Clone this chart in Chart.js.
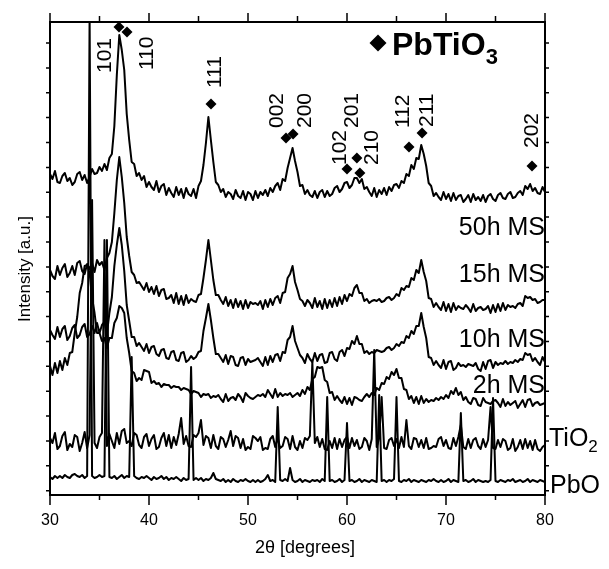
<!DOCTYPE html>
<html><head><meta charset="utf-8">
<script src="https://cdn.jsdelivr.net/npm/chart.js@4"></script>
<style>html,body{margin:0;padding:0;background:#fff}#wrap{width:609px;height:569px}</style>
</head><body><div id="wrap"><canvas id="c" width="609" height="569" style="width:609px;height:569px"></canvas></div>
<script>
// 2-theta grid (degrees)
const angles = [
30,30.25,30.5,30.75,31,31.25,31.5,31.75,32,32.25,32.5,32.75,33,33.25,33.5,33.75,34,34.25,34.5,34.75,
35,35.25,35.5,35.75,36,36.25,36.5,36.75,37,37.25,37.5,37.75,38,38.25,38.5,38.75,39,39.25,39.5,39.75,
40,40.25,40.5,40.75,41,41.25,41.5,41.75,42,42.25,42.5,42.75,43,43.25,43.5,43.75,44,44.25,44.5,44.75,
45,45.25,45.5,45.75,46,46.25,46.5,46.75,47,47.25,47.5,47.75,48,48.25,48.5,48.75,49,49.25,49.5,49.75,
50,50.25,50.5,50.75,51,51.25,51.5,51.75,52,52.25,52.5,52.75,53,53.25,53.5,53.75,54,54.25,54.5,54.75,
55,55.25,55.5,55.75,56,56.25,56.5,56.75,57,57.25,57.5,57.75,58,58.25,58.5,58.75,59,59.25,59.5,59.75,
60,60.25,60.5,60.75,61,61.25,61.5,61.75,62,62.25,62.5,62.75,63,63.25,63.5,63.75,64,64.25,64.5,64.75,
65,65.25,65.5,65.75,66,66.25,66.5,66.75,67,67.25,67.5,67.75,68,68.25,68.5,68.75,69,69.25,69.5,69.75,
70,70.25,70.5,70.75,71,71.25,71.5,71.75,72,72.25,72.5,72.75,73,73.25,73.5,73.75,74,74.25,74.5,74.75,
75,75.25,75.5,75.75,76,76.25,76.5,76.75,77,77.25,77.5,77.75,78,78.25,78.5,78.75,79,79.25,79.5,79.75,
80];

// intensities (a.u.), each relative to its own trace
const ms50h = [
26,21,29,18, 17,24,27,19, 22,15,18,26, 28,20,25,17, 23,31,26,27,
33,29,36,30, 42,46,74,125, 165,150,130,86, 60,38,36,24, 27,20,24,13,
18,13,10,19, 8,14,16,5, 12,7,3,13, 5,11,2,12, 6,4,11,2,
14,19,35,57, 83,60,38,18, 15,8,11,3, 8,6,1,10, 4,2,9,0,
8,6,0,9, 2,8,5,10, 4,12,8,14, 17,10,21,19, 32,42,52,39,
28,14,15,6, 10,5,3,9, 2,8,10,3, 9,4,6,12, 14,8,11,17,
18,12,15,22, 22,17,21,11, 13,8,4,12, 3,10,6,12, 5,13,9,15,
16,12,19,17, 26,24,35,31, 42,41,55,46, 34,17,14,4, 7,3,0,8,
1,6,-1,7, 0,4,5,-2, 1,5,-2,6, 0,3,-1,5, -2,4,6,1,
-1,5,7,2, 1,6,8,2, 3,7,9,5, 14,11,16,9, 12,7,6,13,
8];
const ms15h = [
40,34,31,44, 35,42,46,33, 37,44,35,47, 49,39,36,46, 41,47,38,50,
45,48,40,52, 57,68,97,130, 153,133,107,73, 54,38,35,27, 28,24,20,27,
18,23,16,24, 14,20,21,11, 12,15,7,17, 6,14,5,15, 7,11,9,8,
15,16,32,50, 70,50,30,15, 15,10,6,13, 4,10,2,11, 3,9,1,10,
2,8,6,7, 5,9,1,10, 3,11,5,12, 14,7,17,18, 32,36,44,28,
20,11,9,4, 10,7,2,12, 3,9,1,11, 2,10,3,12, 4,13,6,15,
9,16,14,22, 25,17,17,9, 11,7,9,10, 9,11,8,9, 12,13,10,12,
16,14,22,20, 24,23,32,30, 40,37,50,38, 29,12,11,3, 7,3,0,8,
-1,6,-2,7, 0,4,2,1, 5,2,-2,6, -1,2,3,0, 1,4,-3,5,
-2,6,-1,7, 0,5,3,4, 2,6,7,4, 14,12,13,10, 11,7,8,10,
10];
const ms10h = [
38,33,29,41, 31,39,42,28, 32,40,43,30, 33,41,44,31, 34,42,35,45,
35,43,46,34, 55,71,102,123, 140,123,97,63, 47,31,31,22, 25,21,17,24,
15,21,22,14, 12,18,19,10, 9,16,17,8, 7,15,16,6, 8,12,9,11,
16,17,37,50, 64,48,30,14, 14,10,6,13, 4,12,11,3, 2,10,11,3,
9,6,7,8, 10,6,2,11, 3,12,6,13, 14,7,16,15, 28,31,42,27,
20,13,10,5, 14,9,6,15, 7,13,14,5, 6,15,16,9, 7,16,18,12,
20,19,27,24, 32,24,24,15, 17,14,16,15, 18,17,16,17, 20,21,18,20,
24,22,26,25, 32,30,37,34, 42,42,55,41, 30,11,10,3, 7,3,0,8,
-1,6,7,-2, 0,5,2,3, 1,4,3,2, 5,-1,-3,6, -1,7,8,0,
6,3,5,4, 7,4,6,5, 8,6,9,8, 15,13,14,7, 10,6,3,11,
6];
const ms2h = [
41,32,44,34, 46,37,49,42, 54,55,74,90, 114,124,141,142, 134,109,94,74,
74,66,69,59, 69,69,84,89, 101,99,94,69, 54,36,34,26, 29,27,37,36,
35,24,26,23, 24,20,23,22, 22,19,21,20, 20,17,19,18, 17,13,16,15,
14,10,13,12, 13,9,11,10, 12,8,5,13, 6,9,10,7, 13,10,5,14,
11,9,8,10, 12,11,13,10, 17,13,9,18, 10,14,11,13, 12,14,10,12,
14,11,17,13, 20,17,28,30, 40,39,40,27, 25,14,15,7, 11,7,4,10,
3,9,2,10, 9,7,6,10, 13,10,14,12, 19,17,24,23, 30,28,35,32,
38,29,29,18, 17,8,11,4, 10,3,11,4, 8,5,7,6, 9,7,10,8,
12,9,16,13, 19,12,15,7, 10,5,3,9, 8,2,1,9, 5,4,3,6,
7,4,0,8, 1,5,2,4, 6,-1,3,7, 0,7,8,1, 4,5,2,3,
4];
const tio2 = [
17,12,22,6, 9,19,23,5, 11,8,20,18, 4,12,23,7, 20,255,12,7,
18,22,215,9, 21,14,7,22, 11,24,26,12, 14,9,22,20, 10,7,18,21,
9,16,20,6, 8,17,22,9, 20,7,18,10, 21,37,11,19, 9,8,20,18,
22,35,10,19, 17,7,20,9, 6,18,16,8, 15,24,9,19, 17,7,16,5,
8,6,19,17, 14,18,5,7, 6,16,19,8, 17,7,9,18, 16,6,19,8,
5,14,7,17, 15,19,93,12, 18,8,16,6, 5,14,7,17, 6,16,8,15,
18,7,17,9, 15,6,8,17, 14,5,16,105, 8,17,58,7, 6,15,17,9,
16,7,18,8, 35,9,6,17, 16,8,15,7, 17,6,7,9, 8,16,18,9,
15,7,6,17, 9,18,30,8, 6,16,7,15, 17,9,6,16, 8,15,48,7,
6,15,8,16, 14,5,7,16, 4,8,15,6, 16,7,14,5, 15,6,4,8,
10];
const pbo = [
8,6,9,7, 9,7,10,8, 7,10,11,9, 8,10,7,9, 470,9,7,8,
10,8,9,245, 8,7,9,6, 8,10,7,9, 8,128,9,7, 6,8,7,9,
7,5,8,6, 7,9,6,8, 5,7,6,8, 6,4,7,5, 6,118,5,7,
5,7,4,6, 5,7,12,6, 5,4,6,3, 5,3,6,4, 3,5,4,6,
4,3,5,3, 5,3,4,6, 10,4,5,3, 78,5,4,6, 4,17,5,3,
4,6,3,5, 4,3,5,4, 5,3,6,4, 88,4,5,3, 4,6,3,5,
62,4,5,3, 4,6,3,5, 4,3,5,4, 3,90,4,5, 3,5,4,6,
88,4,3,5, 4,6,3,5, 4,3,5,4, 3,5,4,6, 4,3,5,3,
4,6,3,5, 4,3,72,4, 5,3,4,6, 3,5,4,3, 4,3,5,87,
4,3,5,4, 3,5,4,6, 3,4,5,3, 4,6,3,5, 4,3,5,4,
3];

// stacking of the traces (bottom to top)
const traceNames = ['PbO', 'TiO2', '2h MS', '10h MS', '15h MS', '50h MS'];
const traceValues = [pbo, tio2, ms2h, ms10h, ms15h, ms50h];
const traceOffsets = [10, 40, 88, 127, 185, 295];

// PbTiO3 reflections: marker positions and Miller indices
const hklLabels = ['101','110','111','002','200','102','201','210','112','211','202'];
const hklAngles = [36.97, 37.78, 46.26, 53.84, 54.55, 60.0, 61.0, 61.3, 66.26, 67.58, 78.69];
const hklMarkerLevels = [468, 463, 391, 357, 361, 326, 337, 322, 348, 362, 329];
const hklTextAngles = [35.56, 39.8, 46.67, 52.93, 55.76, 59.29, 60.51, 62.53, 65.66, 68.08, 78.69];
const hklTextLevels = [422, 425, 407, 367, 367, 330, 367, 330, 367, 368, 347];

// trace labels (right side)
const labelLevels = [2, 49, 102, 148, 213, 260];

const yTickLevels = [4.3,29.2,54.0,78.9,103.8,128.7,153.5,178.4,203.3,228.1,253.0,277.9,302.8,327.6,352.5,377.4,402.2,427.1,452.0];

const FONT = 'Arial, "Liberation Sans", Helvetica, sans-serif';

const datasets = traceValues.map((vals, k) => ({
  label: traceNames[k],
  data: angles.map((a, i) => ({x: a, y: traceOffsets[k] + vals[i]})),
  borderColor: '#000', borderWidth: 2, pointRadius: 0, tension: 0,
  borderJoinStyle: 'round', fill: false
}));
datasets.push({
  type: 'scatter', label: 'PbTiO3',
  data: hklAngles.map((a, i) => ({x: a, y: hklMarkerLevels[i]})).concat([{x: 63.13, y: 452}]),
  pointStyle: 'rectRot', backgroundColor: '#000', borderColor: '#000', borderWidth: 0,
  pointRadius: hklAngles.map(() => 5.5).concat([8.5])
});

const decor = {
  id: 'decor',
  afterDraw(chart) {
    const {ctx, chartArea: a, scales: {x, y}} = chart;
    ctx.save();
    ctx.strokeStyle = '#000'; ctx.fillStyle = '#000'; ctx.lineWidth = 1.5;
    ctx.beginPath();
    for (let v = 30; v <= 80; v += 5) {
      const px = x.getPixelForValue(v);
      const major = v % 10 === 0;
      ctx.moveTo(px, a.bottom); ctx.lineTo(px, a.bottom + (major ? 10 : 5));
      ctx.moveTo(px, a.top); ctx.lineTo(px, a.top - (major ? 9 : 6));
    }
    yTickLevels.forEach(v => {
      const py = y.getPixelForValue(v);
      ctx.moveTo(a.left, py); ctx.lineTo(a.left - 4, py);
      ctx.moveTo(a.right, py); ctx.lineTo(a.right + 4, py);
    });
    ctx.stroke();

    // Miller indices (rotated)
    ctx.font = '21px ' + FONT;
    ctx.textAlign = 'left'; ctx.textBaseline = 'middle';
    hklLabels.forEach((t, i) => {
      ctx.save();
      ctx.translate(x.getPixelForValue(hklTextAngles[i]), y.getPixelForValue(hklTextLevels[i]));
      ctx.rotate(-Math.PI / 2);
      ctx.fillText(t, 0, 0);
      ctx.restore();
    });

    // legend text
    ctx.textBaseline = 'alphabetic';
    ctx.font = 'bold 32px ' + FONT;
    const lx = x.getPixelForValue(63.13) + 14, ly = y.getPixelForValue(452) + 12;
    ctx.fillText('PbTiO', lx, ly);
    const w = ctx.measureText('PbTiO').width;
    ctx.font = 'bold 22px ' + FONT;
    ctx.fillText('3', lx + w, ly + 9);

    // trace labels
    ctx.font = '25px ' + FONT;
    for (let k = 2; k < 6; k++) {
      ctx.textAlign = 'right';
      ctx.fillText(traceNames[k], a.right, y.getPixelForValue(labelLevels[k]));
    }
    ctx.textAlign = 'left';
    const tx = a.right + 4;
    let py = y.getPixelForValue(labelLevels[1]);
    ctx.fillText('TiO', tx, py);
    const tw = ctx.measureText('TiO').width;
    ctx.font = '17px ' + FONT;
    ctx.fillText('2', tx + tw, py + 6);
    ctx.font = '25px ' + FONT;
    ctx.fillText('PbO', a.right + 5, y.getPixelForValue(labelLevels[0]));

    // axis titles
    ctx.font = '18px ' + FONT;
    ctx.textAlign = 'center'; ctx.textBaseline = 'middle';
    ctx.fillText('2\u03B8 [degrees]', 305, 548);
    ctx.save();
    ctx.translate(25, 269);
    ctx.rotate(-Math.PI / 2);
    ctx.font = '17px ' + FONT;
    ctx.fillText('Intensity [a.u.]', 0, 0);
    ctx.restore();
    ctx.restore();
  }
};

const border = {display: true, color: '#000', width: 2};
new Chart(document.getElementById('c'), {
  type: 'line',
  data: {datasets},
  options: {
    responsive: false, animation: false, devicePixelRatio: 1, events: [],
    layout: {padding: 0},
    plugins: {legend: {display: false}, tooltip: {enabled: false}},
    scales: {
      x: {type: 'linear', position: 'bottom', min: 30, max: 80,
          ticks: {stepSize: 10, color: '#000', font: {family: FONT, size: 16}, padding: 16, maxRotation: 0},
          grid: {display: false, drawTicks: false}, border,
          afterFit: s => { s.height = 74; }},
      xTop: {type: 'linear', position: 'top', min: 30, max: 80,
          ticks: {display: false}, grid: {display: false, drawTicks: false}, border,
          afterFit: s => { s.height = 22; }},
      y: {type: 'linear', position: 'left', min: 0, max: 473,
          ticks: {display: false}, grid: {display: false, drawTicks: false}, border,
          afterFit: s => { s.width = 50; }},
      yRight: {type: 'linear', position: 'right', min: 0, max: 473,
          ticks: {display: false}, grid: {display: false, drawTicks: false}, border,
          afterFit: s => { s.width = 64; }}
    }
  },
  plugins: [decor]
});
</script></body></html>
